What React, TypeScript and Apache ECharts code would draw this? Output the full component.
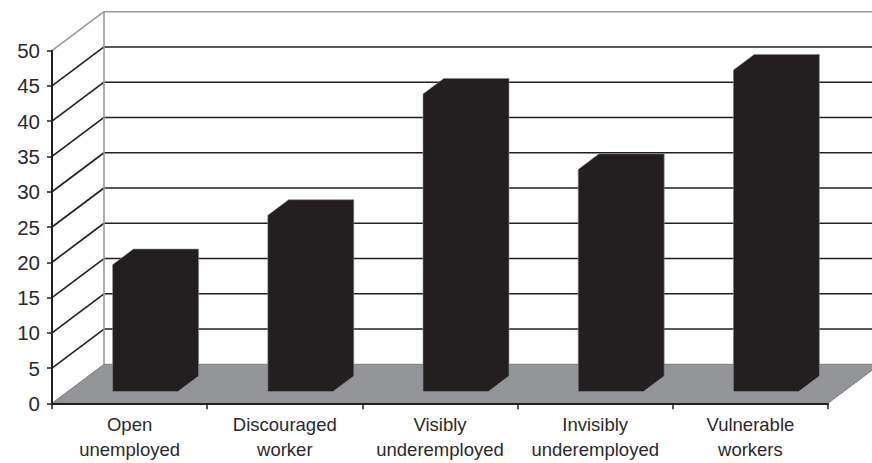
import React, { useEffect, useRef } from "react";
import * as echarts from "echarts";

const categories = [
  "Open\nunemployed",
  "Discouraged\nworker",
  "Visibly\nunderemployed",
  "Invisibly\nunderemployed",
  "Vulnerable\nworkers",
];
const values = [18, 25, 42.2, 31.5, 45.6];
const yTicks = [0, 5, 10, 15, 20, 25, 30, 35, 40, 45, 50];

// oblique 3D depth vector (pixels)
const DX = 52;
const DY = -39;
const BAR_FRONT = 0.3;
const BAR_DEPTH = 0.4;
const BAR_RATIO = 0.42;

const INK = "#231f20";
const EDGE = "#9a9a9a";
const FLOOR = "#939598";
const FONT = "Liberation Sans, Arial, sans-serif";

export default function App() {
  const ref = useRef<HTMLDivElement>(null);
  useEffect(() => {
    document.body.style.margin = "0";
    const chart = echarts.init(ref.current!, null, { renderer: "svg" });
    const yMax = yTicks[yTicks.length - 1];
    chart.setOption({
      animation: false,
      backgroundColor: "#ffffff",
      grid: { left: 52, right: 44, top: 50.7, bottom: 59.7 },
      xAxis: {
        type: "category",
        data: categories,
        z: 10,
        axisLine: { show: true, lineStyle: { color: INK, width: 2 } },
        axisTick: { show: true, length: 6, alignWithLabel: false, interval: 0, lineStyle: { color: INK, width: 1.5 } },
        axisLabel: { interval: 0, color: "#2a2a2a", fontSize: 18.5, fontFamily: FONT, margin: 9, lineHeight: 25 },
        splitLine: { show: false },
      },
      yAxis: {
        type: "value",
        min: 0,
        max: yMax,
        interval: 5,
        z: 10,
        axisLine: { show: true, lineStyle: { color: INK, width: 2 } },
        axisTick: { show: true, length: 5, lineStyle: { color: INK, width: 1.5 } },
        axisLabel: { color: "#2a2a2a", fontSize: 20.5, fontFamily: FONT, margin: 12 },
        splitLine: { show: false },
      },
      series: [
        {
          type: "custom",
          name: "walls",
          z: 1,
          clip: false,
          silent: true,
          data: yTicks.map((t) => [0, t]),
          renderItem: (params: any, api: any) => {
            const v = api.value(1);
            const bw = api.size([1, 0])[0];
            const p = api.coord([0, v]);
            const xl = p[0] - bw / 2;
            const y = p[1];
            const xr = api.coord([categories.length - 1, v])[0] + bw / 2;
            const y0 = api.coord([0, 0])[1];
            if (v === 0) return { type: "group", children: [] };
            const isTop = v === yMax;
            const color = isTop ? EDGE : INK;
            const children: any[] = [
              { type: "line", shape: { x1: xl, y1: y, x2: xl + DX, y2: y + DY }, style: { stroke: color, lineWidth: 1.6 } },
              { type: "line", shape: { x1: xl + DX, y1: y + DY, x2: xr + DX, y2: y + DY }, style: { stroke: color, lineWidth: 1.6 } },
            ];
            if (isTop) {
              children.push({ type: "line", shape: { x1: xl + DX, y1: y + DY, x2: xl + DX, y2: y0 + DY }, style: { stroke: EDGE, lineWidth: 1.6 } });
            }
            return { type: "group", children };
          },
        },
        {
          type: "custom",
          name: "floor",
          z: 2,
          clip: false,
          silent: true,
          data: [[0, 0]],
          renderItem: (params: any, api: any) => {
            const bw = api.size([1, 0])[0];
            const p = api.coord([0, 0]);
            const xl = p[0] - bw / 2;
            const y = p[1];
            const xr = api.coord([categories.length - 1, 0])[0] + bw / 2;
            return {
              type: "group",
              children: [
                { type: "polygon", shape: { points: [[xl, y], [xr, y], [xr + DX, y + DY], [xl + DX, y + DY]] }, style: { fill: FLOOR, stroke: "#7f7f7f", lineWidth: 1 } },
              ],
            };
          },
        },
        {
          type: "custom",
          name: "bars",
          z: 3,
          clip: false,
          data: values.map((v, i) => [i, v]),
          encode: { x: 0, y: 1 },
          renderItem: (params: any, api: any) => {
            const i = api.value(0);
            const v = api.value(1);
            const base = api.coord([i, 0]);
            const top = api.coord([i, v]);
            const w = api.size([1, 0])[0] * BAR_RATIO;
            const x0 = base[0] - w / 2 + DX * BAR_FRONT;
            const x1 = x0 + w;
            const yb = base[1] + DY * BAR_FRONT;
            const yt = top[1] + DY * BAR_FRONT;
            const bx = DX * BAR_DEPTH;
            const by = DY * BAR_DEPTH;
            return {
              type: "polygon",
              shape: { points: [[x0, yb], [x0, yt], [x0 + bx, yt + by], [x1 + bx, yt + by], [x1 + bx, yb + by], [x1, yb]] },
              style: { fill: INK, stroke: "#8a8a8a", lineWidth: 0.6 },
            };
          },
        },
      ],
    });
    return () => chart.dispose();
  }, []);
  return <div ref={ref} style={{ width: 872, height: 463 }} />;
}
